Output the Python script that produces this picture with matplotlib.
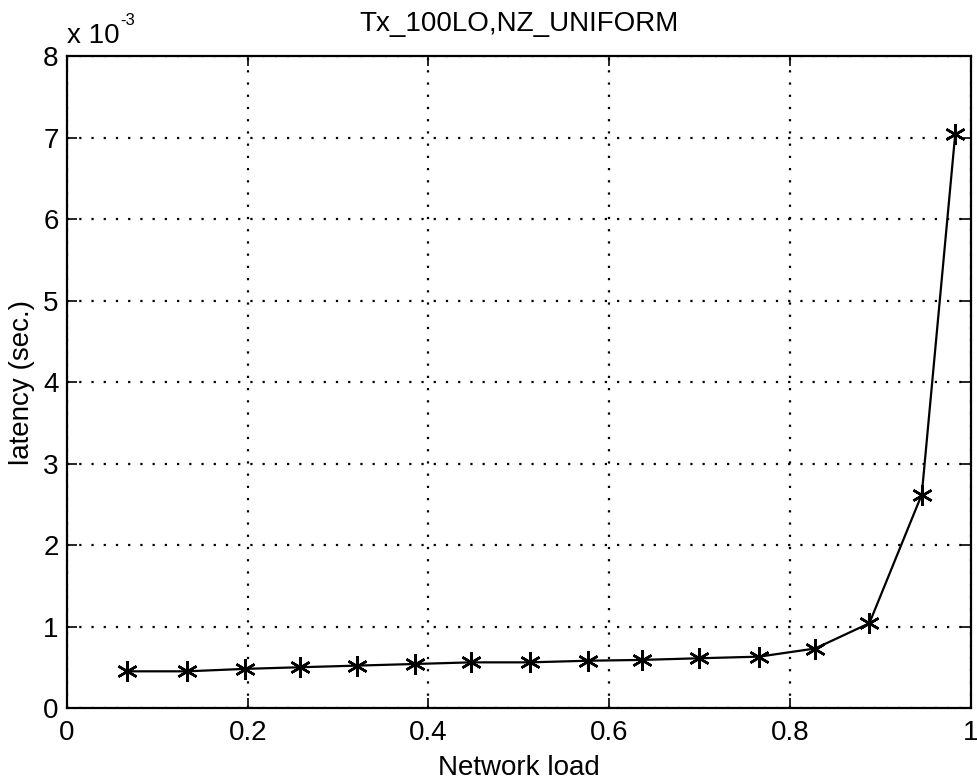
import matplotlib
matplotlib.use("Agg")
import matplotlib.pyplot as plt
from matplotlib.ticker import FuncFormatter

plt.rcParams['font.family'] = ['Liberation Sans', 'DejaVu Sans']

network_load = [0.066, 0.133, 0.197, 0.258, 0.321, 0.385, 0.447, 0.512, 0.577,
                0.636, 0.699, 0.766, 0.828, 0.888, 0.946, 0.983]
latency_ms = [0.45, 0.45, 0.48, 0.50, 0.52, 0.54, 0.56, 0.56, 0.58,
              0.59, 0.61, 0.63, 0.73, 1.04, 2.62, 7.04]
latency = [v * 1e-3 for v in latency_ms]

xticks = [0, 0.2, 0.4, 0.6, 0.8, 1]
yticks = [i * 1e-3 for i in range(9)]

fig = plt.figure(figsize=(9.77, 7.81), dpi=100)
ax = fig.add_axes([0.0686, 0.0935, 0.9248, 0.8345])

ax.plot(network_load, latency, color='black', linewidth=1.6,
        marker=(6, 2, 0), markersize=15, markeredgewidth=1.8)

ax.set_xlim(0, 1)
ax.set_ylim(0, 8e-3)
ax.set_xticks(xticks)
ax.set_yticks(yticks)
ax.xaxis.set_major_formatter(FuncFormatter(lambda v, p: '%g' % v))
ax.yaxis.set_major_formatter(FuncFormatter(lambda v, p: '%g' % round(v * 1e3, 6)))

ax.grid(True, color='black', linestyle=(0, (1, 4.5)), linewidth=1.6)
ax.tick_params(direction='in', length=7, width=1.2, top=True, right=True,
               labelsize=20, colors='black')
ax.tick_params(axis='x', pad=9)
ax.tick_params(axis='y', pad=6)
for s in ax.spines.values():
    s.set_linewidth(1.6)

ax.set_xlabel('Network load', fontsize=20, labelpad=6)
ax.set_ylabel('latency (sec.)', fontsize=20, labelpad=6)
ax.set_title('Tx_100LO,NZ_UNIFORM', fontsize=20, pad=18)
fig.text(0.0686, 0.945, 'x 10', fontsize=20, ha='left', va='baseline')
fig.text(0.1235, 0.968, '-3', fontsize=12, ha='left', va='baseline')

fig.savefig('out.png', dpi=100)
